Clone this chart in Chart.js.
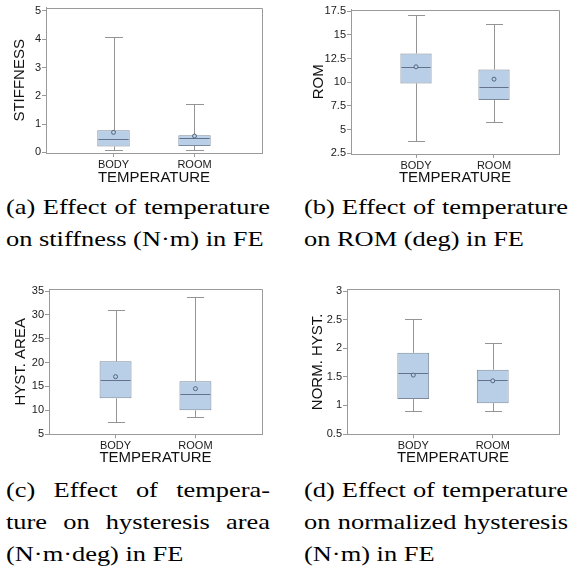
<!DOCTYPE html>
<html>
<head>
<meta charset="utf-8">
<script src="https://cdn.jsdelivr.net/npm/chart.js@4.4.0/dist/chart.umd.min.js"></script>
<style>
  body { margin: 0; background: #fff; }
  #page { position: relative; width: 572px; height: 571px; overflow: hidden; }
  canvas { position: absolute; }
  .cap {
    position: absolute; width: 220px;
    font-family: "Liberation Serif", "Times New Roman", serif;
    font-size: 22px; line-height: 32px; color: #000;
    transform: scaleX(1.2); transform-origin: 0 0;
    white-space: nowrap;
  }
  .cap .j { text-align: justify; text-align-last: justify; white-space: normal; }
</style>
</head>
<body>
<div id="page">
  <canvas id="cA" width="290" height="190" style="left:0;top:0"></canvas>
  <canvas id="cB" width="282" height="190" style="left:290px;top:0"></canvas>
  <canvas id="cC" width="290" height="190" style="left:0;top:280px"></canvas>
  <canvas id="cD" width="282" height="190" style="left:290px;top:280px"></canvas>

  <div class="cap" style="left:6px;top:191px">
    <div class="j">(a) Effect of temperature</div>
    <div>on stiffness (N·m) in FE</div>
  </div>
  <div class="cap" style="left:304px;top:191px">
    <div class="j">(b) Effect of temperature</div>
    <div>on ROM (deg) in FE</div>
  </div>
  <div class="cap" style="left:6px;top:474px">
    <div class="j">(c) Effect of tempera-</div>
    <div class="j">ture on hysteresis area</div>
    <div>(N·m·deg) in FE</div>
  </div>
  <div class="cap" style="left:304px;top:474px">
    <div class="j">(d) Effect of temperature</div>
    <div class="j">on normalized hysteresis</div>
    <div>(N·m) in FE</div>
  </div>
</div>

<script>
// categories on the x axis
const categories = ['BODY', 'ROOM'];

// (a) stiffness
const stiffMin = [0.07, 0.07];
const stiffQ1 = [0.21, 0.23];
const stiffMedian = [0.47, 0.51];
const stiffQ3 = [0.78, 0.61];
const stiffMax = [4.07, 1.72];
const stiffMean = [0.71, 0.58];
const stiffTicks = ['0', '1', '2', '3', '4', '5'];

// (b) ROM
const romMin = [3.77, 5.77];
const romQ1 = [9.88, 8.12];
const romMedian = [11.56, 9.46];
const romQ3 = [13.04, 11.35];
const romMax = [17.15, 16.2];
const romMean = [11.63, 10.33];
const romTicks = ['2.5', '5', '7.5', '10', '12.5', '15', '17.5'];

// (c) hysteresis area
const hystMin = [7.45, 8.57];
const hystQ1 = [12.48, 9.97];
const hystMedian = [16.26, 13.32];
const hystQ3 = [20.24, 16.05];
const hystMax = [31.08, 33.67];
const hystMean = [17.03, 14.51];
const hystTicks = ['5', '10', '15', '20', '25', '30', '35'];

// (d) normalized hysteresis
const normMin = [0.91, 0.90];
const normQ1 = [1.11, 1.04];
const normMedian = [1.56, 1.44];
const normQ3 = [1.92, 1.625];
const normMax = [2.51, 2.085];
const normMean = [1.53, 1.43];
const normTicks = ['0.5', '1', '1.5', '2', '2.5', '3'];

const FONT = "'Liberation Sans', Arial, sans-serif";
const AXIS_GREY = '#9a9a9a';
const BOX_FILL = '#b9cfe8';
const BOX_LINE = '#7b8a9c';
const WHISKER = '#949494';

// whiskers, median line and frame, drawn with the chart's own scales
const boxPlotExtras = {
    id: 'boxPlotExtras',
    beforeDatasetsDraw(chart) {
        const s = chart.options.plugins.boxPlotExtras;
        const x = chart.scales.x, y = chart.scales.y;
        const ctx = chart.ctx;
        ctx.save();
        ctx.strokeStyle = WHISKER;
        ctx.lineWidth = 1;
        s.min.forEach((lo, i) => {
            const cx = Math.round(x.getPixelForValue(i + 1)) + 0.5;
            const capL = Math.round(x.getPixelForValue(i + 1 - 0.1));
            const capR = Math.round(x.getPixelForValue(i + 1 + 0.1)) + 1;
            const yMin = Math.round(y.getPixelForValue(lo)) + 0.5;
            const yMax = Math.round(y.getPixelForValue(s.max[i])) + 0.5;
            ctx.beginPath();
            ctx.moveTo(cx, yMin); ctx.lineTo(cx, y.getPixelForValue(s.q1[i]));
            ctx.moveTo(cx, yMax); ctx.lineTo(cx, y.getPixelForValue(s.q3[i]));
            ctx.moveTo(capL, yMin); ctx.lineTo(capR, yMin);
            ctx.moveTo(capL, yMax); ctx.lineTo(capR, yMax);
            ctx.stroke();
        });
        ctx.restore();
    },
    afterDatasetDraw(chart, args) {
        if (args.index !== 0) return;
        const s = chart.options.plugins.boxPlotExtras;
        const x = chart.scales.x, y = chart.scales.y;
        const ctx = chart.ctx;
        ctx.save();
        ctx.strokeStyle = '#62738a';
        ctx.lineWidth = 1;
        s.median.forEach((m, i) => {
            const ym = Math.round(y.getPixelForValue(m)) + 0.5;
            ctx.beginPath();
            ctx.moveTo(x.getPixelForValue(i + 1 - 0.2) + 1, ym);
            ctx.lineTo(x.getPixelForValue(i + 1 + 0.2) - 1, ym);
            ctx.stroke();
        });
        ctx.restore();
    },
    afterDraw(chart) {
        const a = chart.chartArea;
        const ctx = chart.ctx;
        ctx.save();
        ctx.strokeStyle = AXIS_GREY;
        ctx.lineWidth = 1;
        ctx.beginPath();
        ctx.moveTo(Math.round(a.left), Math.round(a.top) + 0.5);
        ctx.lineTo(Math.round(a.right) + 0.5, Math.round(a.top) + 0.5);
        ctx.lineTo(Math.round(a.right) + 0.5, Math.round(a.bottom));
        ctx.stroke();
        ctx.restore();
    }
};

function boxChart(id, p) {
    const canvas = document.getElementById(id);
    const ticks = p.ticks.map(Number);
    return new Chart(canvas, {
        type: 'bar',
        data: {
            datasets: [
                {
                    type: 'bar',
                    order: 2,
                    data: categories.map((c, i) => ({ x: i + 1, y: [p.q1[i], p.q3[i]] })),
                    backgroundColor: BOX_FILL,
                    borderColor: BOX_LINE,
                    borderWidth: 1,
                    borderSkipped: false,
                    grouped: false,
                    barPercentage: 0.4,
                    categoryPercentage: 1
                },
                {
                    type: 'scatter',
                    order: 1,
                    data: categories.map((c, i) => ({ x: i + 1, y: p.mean[i] })),
                    pointRadius: 2,
                    pointBorderWidth: 1,
                    pointBorderColor: '#56667a',
                    pointBackgroundColor: BOX_FILL
                }
            ]
        },
        options: {
            responsive: false,
            animation: false,
            devicePixelRatio: 1,
            layout: { padding: { top: p.top, right: canvas.width - p.right, left: 0, bottom: 0 } },
            plugins: {
                legend: { display: false },
                tooltip: { enabled: false },
                boxPlotExtras: p
            },
            scales: {
                x: {
                    type: 'linear',
                    offset: false,
                    min: 1 / 6,
                    max: 17 / 6,
                    afterBuildTicks: s => { s.ticks = categories.map((c, i) => ({ value: i + 1 })); },
                    afterFit: s => { s.height = canvas.height - p.bottom; },
                    ticks: {
                        callback: v => categories[v - 1],
                        color: '#1a1a1a',
                        font: { family: FONT, size: 11 },
                        padding: 1,
                        maxRotation: 0
                    },
                    grid: { drawOnChartArea: false, offset: false, tickLength: 4, color: AXIS_GREY },
                    border: { color: AXIS_GREY },
                    title: {
                        display: true,
                        text: 'TEMPERATURE',
                        color: '#111',
                        font: { family: FONT, size: 15 },
                        padding: { top: 0, bottom: 3 }
                    }
                },
                y: {
                    min: p.yMin,
                    max: p.yMax,
                    afterBuildTicks: s => { s.ticks = ticks.map(v => ({ value: v })); },
                    afterFit: s => { s.width = p.left; },
                    ticks: {
                        callback: (v, i) => p.ticks[i],
                        color: '#1a1a1a',
                        font: { family: FONT, size: 11 },
                        padding: 1
                    },
                    grid: { drawOnChartArea: false, tickLength: 4, color: AXIS_GREY },
                    border: { color: AXIS_GREY },
                    title: {
                        display: true,
                        text: p.title,
                        color: '#111',
                        font: { family: FONT, size: 15 },
                        padding: { top: p.titlePad, bottom: 0 }
                    }
                }
            }
        },
        plugins: [boxPlotExtras]
    });
}

boxChart('cA', {
    title: 'STIFFNESS', ticks: stiffTicks, yMin: -0.02, yMax: 5.12,
    min: stiffMin, q1: stiffQ1, median: stiffMedian, q3: stiffQ3, max: stiffMax, mean: stiffMean,
    left: 46, right: 262, top: 7, bottom: 153, titlePad: 11
});
boxChart('cB', {
    title: 'ROM', ticks: romTicks, yMin: 2.43, yMax: 17.68,
    min: romMin, q1: romQ1, median: romMedian, q3: romQ3, max: romMax, mean: romMean,
    left: 61, right: 269, top: 9.5, bottom: 154, titlePad: 19.5
});
boxChart('cC', {
    title: 'HYST. AREA', ticks: hystTicks, yMin: 4.94, yMax: 35.36,
    min: hystMin, q1: hystQ1, median: hystMedian, q3: hystQ3, max: hystMax, mean: hystMean,
    left: 49, right: 262, top: 9.3, bottom: 154.3, titlePad: 11.5
});
boxChart('cD', {
    title: 'NORM. HYST.', ticks: normTicks, yMin: 0.495, yMax: 3.03,
    min: normMin, q1: normQ1, median: normMedian, q3: normQ3, max: normMax, mean: normMean,
    left: 57, right: 269, top: 9.3, bottom: 154.3, titlePad: 18.5
});
</script>
</body>
</html>
